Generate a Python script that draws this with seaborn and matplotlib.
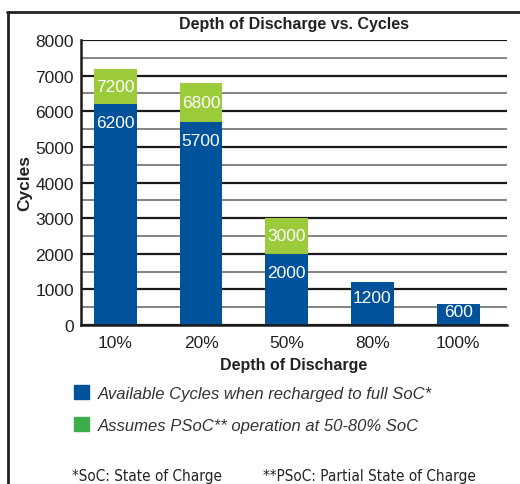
import matplotlib.pyplot as plt
import pandas as pd
import seaborn as sns
from matplotlib.patches import Patch
from matplotlib.lines import Line2D
from matplotlib.ticker import MultipleLocator
from matplotlib import font_manager

# data
dod = ["10%", "20%", "50%", "80%", "100%"]
full_soc = [6200, 5700, 2000, 1200, 600]
psoc = [7200, 6800, 3000, None, None]

blue = "#00529B"
green = "#9BCB3B"
legend_green = "#3DAE4A"

df = pd.DataFrame({"dod": dod, "full": full_soc, "psoc": psoc})
df["total"] = df["psoc"].fillna(df["full"])

sns.set_style("white")
plt.rcParams["font.family"] = ["Liberation Sans", "DejaVu Sans"]

fig = plt.figure(figsize=(5.2, 4.85), dpi=100)
ax = fig.add_axes([0.1558, 0.3278, 0.8192, 0.5876])

sns.barplot(data=df, x="dod", y="total", color=green, saturation=1, width=0.5, linewidth=0, ax=ax)
sns.barplot(data=df, x="dod", y="full", color=blue, saturation=1, width=0.5, linewidth=0, ax=ax)

# value labels
for i, row in df.iterrows():
    if pd.notna(row["psoc"]):
        mid = (row["full"] + row["psoc"]) / 2
        ax.text(i, mid, f"{int(row['psoc'])}", color="white", ha="center", va="center", fontsize=12.5)
    drop = min(13.5, row["full"] / 8000 * 205 * 0.5 * 0.72)
    ax.annotate(f"{int(row['full'])}", (i, row["full"]), xytext=(0, -drop),
                textcoords="offset points", color="white", ha="center", va="center", fontsize=12.5)

ax.set_ylim(0, 8000)
ax.set_xlim(-0.4, 4.57)
ax.yaxis.set_major_locator(MultipleLocator(1000))
ax.yaxis.set_minor_locator(MultipleLocator(500))
ax.set_axisbelow(True)
ax.grid(which="major", axis="y", color="#1a1a1a", lw=1.6)
ax.grid(which="minor", axis="y", color="#7a7a7a", lw=1.3)
ax.tick_params(axis="both", length=0, labelsize=12.5, colors="#222222")
ax.tick_params(axis="x", pad=7)
ax.tick_params(axis="y", pad=5)
ax.set_xlabel("")
ax.set_ylabel("")
for s in ["top", "right"]:
    ax.spines[s].set_visible(False)
ax.spines["left"].set_color("#1a1a1a")
ax.spines["left"].set_linewidth(1.8)
ax.spines["bottom"].set_color("#1a1a1a")
ax.spines["bottom"].set_linewidth(1.8)

fig.text(294 / 520, 1 - 24 / 485, "Depth of Discharge vs. Cycles", ha="center", va="center",
         fontsize=11.5, fontweight="bold", color="#222222")
fig.text(294 / 520, 1 - 366 / 485, "Depth of Discharge", ha="center", va="center",
         fontsize=11.5, fontweight="bold", color="#222222")
fig.text(25 / 520, 1 - 183 / 485, "Cycles", ha="center", va="center", rotation=90,
         fontsize=12.5, fontweight="bold", color="#222222")

handles = [Patch(color=blue), Patch(color=legend_green)]
labels = ["Available Cycles when recharged to full SoC*", "Assumes PSoC** operation at 50-80% SoC"]
leg = fig.legend(handles, labels, loc="upper left", bbox_to_anchor=(59 / 520, 1 - 371 / 485),
                 frameon=False, handlelength=0.9, handleheight=0.9, handletextpad=0.5,
                 labelspacing=1.0, prop={"size": 12, "style": "italic"})
for t in leg.get_texts():
    t.set_color("#333333")

# condensed font for the footnotes if one is installed
names = {f.name for f in font_manager.fontManager.ttflist}
if "Liberation Sans Narrow" in names:
    foot = dict(family="Liberation Sans Narrow", fontsize=13)
elif any(f.name == "DejaVu Sans" and f.stretch == "condensed" for f in font_manager.fontManager.ttflist):
    foot = dict(family="DejaVu Sans", fontstretch="condensed", fontsize=11)
else:
    foot = dict(family="Liberation Sans", fontsize=10.8)
fig.text(72 / 520, 1 - 481 / 485, "*SoC: State of Charge", ha="left", va="baseline",
         color="#222222", **foot)
fig.text(263 / 520, 1 - 481 / 485, "**PSoC: Partial State of Charge", ha="left", va="baseline",
         color="#222222", **foot)

# outer frame lines
fig.add_artist(Line2D([8 / 520, 8 / 520], [0, 1 - 13 / 485], transform=fig.transFigure, color="#222222", lw=2))
fig.add_artist(Line2D([7 / 520, 1], [1 - 13 / 485, 1 - 13 / 485], transform=fig.transFigure, color="#222222", lw=2))

fig.savefig("out.png", dpi=100)
